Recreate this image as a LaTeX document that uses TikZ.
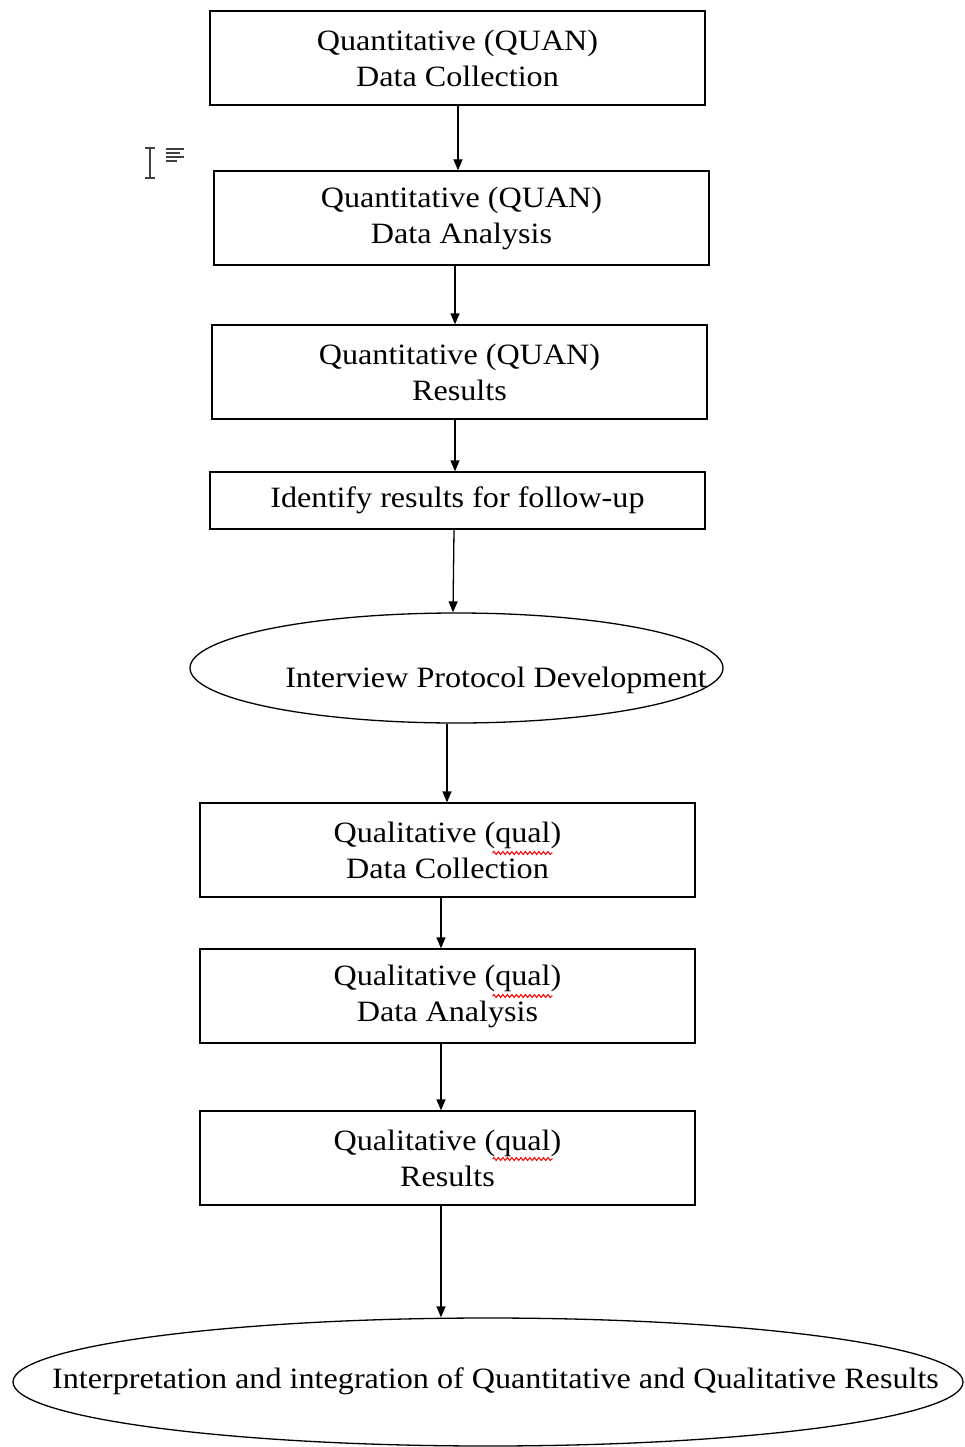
\documentclass[tikz,border=0pt]{standalone}
\usepackage{fontspec}
\setmainfont[FakeStretch=1.09]{Liberation Serif}
\usetikzlibrary{arrows.meta,shapes.geometric,decorations.pathmorphing}
\begin{document}
\begin{tikzpicture}[x=1pt,y=-1pt,
  box/.style={draw, line width=1.3pt, minimum width=495pt, inner sep=0pt, align=center,
              font=\fontsize{29.5}{36}\selectfont},
  tall/.style={box, minimum height=94pt},
  short/.style={box, minimum height=57pt},
  oval/.style={draw, ellipse, line width=1.3pt, inner sep=0pt},
  lbl/.style={inner sep=0pt, font=\fontsize{29.5}{36}\selectfont},
  arr/.style={line width=1.3pt, -{Triangle[length=11pt,width=9pt]}},
  wave/.style={red, line width=1pt, decorate, decoration={snake, amplitude=1.5pt, segment length=4.5pt}},
  icon/.style={line width=1.3pt, black!75}]
\useasboundingbox (0,0) rectangle (964,1447);
\fill[white] (0,0) rectangle (964,1447);

\node[tall] (b1) at (457.5,58) {Quantitative (QUAN)\\Data Collection};
\node[tall] (b2) at (461.5,218) {\raisebox{-3pt}{Quantitative (QUAN)}\\\raisebox{-3pt}{Data Analysis}};
\node[tall] (b3) at (459.5,372) {Quantitative (QUAN)\\Results};
\node[short] (b4) at (457.5,500.5) {Identify results for follow-up};
\node[oval, minimum width=533pt, minimum height=110pt] (e1) at (456.5,668) {};
\node[lbl] (t1) at (496,680) {Interview Protocol Development};
\node[tall] (b5) at (447.5,850) {Qualitative (qual)\\Data Collection};
\node[tall] (b6) at (447.5,996) {\raisebox{-3pt}{Qualitative (qual)}\\\raisebox{-3pt}{Data Analysis}};
\node[tall] (b7) at (447.5,1158) {Qualitative (qual)\\Results};
\node[oval, minimum width=950pt, minimum height=128pt] (e2) at (488,1382) {};
\node[lbl] (t2) at (495.5,1381) {Interpretation and integration of Quantitative and Qualitative Results};

% connectors
\draw[arr] (b1.south -| 458,0) -- (b2.north -| 458,0);
\draw[arr] (b2.south -| 455,0) -- (b3.north -| 455,0);
\draw[arr] (b3.south -| 455,0) -- (b4.north -| 455,0);
\coordinate (a4s) at (b4.south -| 454,0);
\coordinate (a4e) at (e1.north -| 453,0);
\draw[arr] (a4s) -- (a4e);
\draw[arr] (e1.south -| 447,0) -- (b5.north -| 447,0);
\draw[arr] (b5.south -| 441,0) -- (b6.north -| 441,0);
\draw[arr] (b6.south -| 441,0) -- (b7.north -| 441,0);
\draw[arr] (b7.south -| 441,0) -- (e2.north -| 441,0);

% spell-check wavy underlines
\draw[wave] ([xshift=45pt,yshift=-3pt]b5.center) -- ++(60,0);
\draw[wave] ([xshift=45pt,yshift=0pt]b6.center) -- ++(60,0);
\draw[wave] ([xshift=45pt,yshift=-1pt]b7.center) -- ++(60,0);

% cursor icon
\draw[icon] (150,148) -- (150,178);
\draw[icon] (145,148) -- (155,148);
\draw[icon] (145,178) -- (155,178);
\draw[icon] (166,149) -- (184,149);
\draw[icon] (166,153) -- (180,153);
\draw[icon] (166,157) -- (184,157);
\draw[icon] (166,161) -- (177,161);
\end{tikzpicture}
\end{document}
